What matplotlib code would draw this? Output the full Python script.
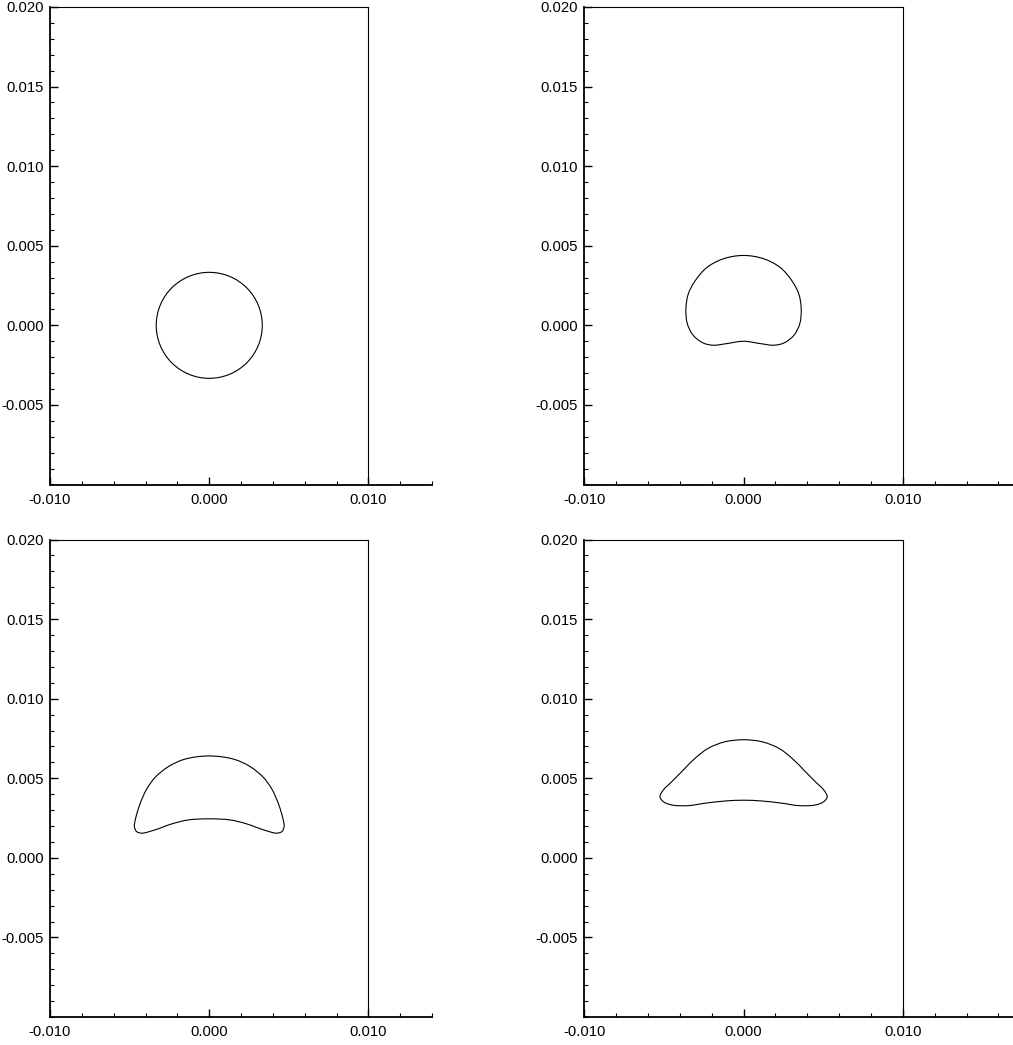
import numpy as np
import matplotlib
matplotlib.use("Agg")
import matplotlib.pyplot as plt
from matplotlib.path import Path
from matplotlib.patches import PathPatch, Circle
from matplotlib.ticker import FixedLocator, MultipleLocator, FormatStrFormatter

plt.rcParams['font.family'] = ['Liberation Sans', 'DejaVu Sans']

# Computational domain (box edges)
domain_x = [-0.010, 0.010]
domain_y = [-0.010, 0.020]

# Axis ranges and ticks
x_limits_left = [-0.010, 0.014]
x_limits_right = [-0.010, 0.017]
y_limits = [-0.010, 0.020]
x_major = [-0.010, 0.000, 0.010]
y_major = [-0.005, 0.000, 0.005, 0.010, 0.015, 0.020]

# Stage 1: initial spherical bubble
circle_center = (0.0, 0.0)
circle_radius = 0.00333

# Stages 2-4: right half of the bubble interface, from the top (x=0)
# clockwise round to the bottom (x=0); the left half is its mirror image.
s2_x = [0.0, 0.00127, 0.00232, 0.00305, 0.00347, 0.00362, 0.00353,
        0.00316, 0.00253, 0.00190, 0.00107, 0.0]
s2_y = [0.00439, 0.00418, 0.00362, 0.00278, 0.00197, 0.00105, 0.00010,
        -0.00063, -0.00111, -0.00125, -0.00115, -0.00100]

s3_x = [0.0, 0.00153, 0.00257, 0.00340, 0.00393, 0.00435, 0.00462,
        0.00470, 0.00456, 0.00424, 0.00340, 0.00236, 0.00132, 0.0]
s3_y = [0.00640, 0.00620, 0.00573, 0.00505, 0.00432, 0.00338, 0.00249,
        0.00196, 0.00165, 0.00155, 0.00176, 0.00213, 0.00238, 0.00245]

s4_x = [0.0, 0.00117, 0.00222, 0.00305, 0.00378, 0.00451, 0.00504,
        0.00525, 0.00504, 0.00451, 0.00347, 0.00243, 0.00117, 0.0]
s4_y = [0.00742, 0.00729, 0.00688, 0.00625, 0.00552, 0.00478, 0.00426,
        0.00384, 0.00353, 0.00332, 0.00328, 0.00343, 0.00357, 0.00362]


def closed_contour(hx, hy):
    """Join a right half-contour with its mirror to form a closed loop."""
    hx = np.asarray(hx)
    hy = np.asarray(hy)
    lx = -hx[-2:0:-1]
    ly = hy[-2:0:-1]
    return np.concatenate([hx, lx]), np.concatenate([hy, ly])


def bezier_path(px, py, alpha=0.5):
    """Closed cubic Bezier path through the points (centripetal Catmull-Rom)."""
    pts = np.column_stack([px, py])
    n = len(pts)
    verts = [pts[0]]
    codes = [Path.MOVETO]
    for i in range(n):
        p0 = pts[(i - 1) % n]
        p1 = pts[i]
        p2 = pts[(i + 1) % n]
        p3 = pts[(i + 2) % n]
        d0 = np.linalg.norm(p1 - p0) ** alpha
        d1 = np.linalg.norm(p2 - p1) ** alpha
        d2 = np.linalg.norm(p3 - p2) ** alpha
        m1 = (p1 - p0) / d0 - (p2 - p0) / (d0 + d1) + (p2 - p1) / d1
        m2 = (p2 - p1) / d1 - (p3 - p1) / (d1 + d2) + (p3 - p2) / d2
        c1 = p1 + m1 * d1 / 3.0
        c2 = p2 - m2 * d1 / 3.0
        verts.extend([c1, c2, p2])
        codes.extend([Path.CURVE4] * 3)
    return Path(verts, codes)


W, H = 1013, 1045
fig = plt.figure(figsize=(W / 100, H / 100), dpi=100)

# panel frames in pixels: (left, right, top, bottom)
px_per_unit = 15925.0
left_w = (x_limits_left[1] - x_limits_left[0]) * px_per_unit
right_w = (x_limits_right[1] - x_limits_right[0]) * px_per_unit
frames = [(50, 50 + left_w, 7, 484.5, x_limits_left),
          (584.3, 584.3 + right_w, 7, 484.5, x_limits_right),
          (50, 50 + left_w, 539.5, 1017, x_limits_left),
          (584.3, 584.3 + right_w, 539.5, 1017, x_limits_right)]

shapes = [None, (s2_x, s2_y), (s3_x, s3_y), (s4_x, s4_y)]

for (l, r, t, b, xl), shape in zip(frames, shapes):
    ax = fig.add_axes([l / W, 1 - b / H, (r - l) / W, (b - t) / H])
    ax.set_xlim(xl)
    ax.set_ylim(y_limits)
    for side in ('top', 'right'):
        ax.spines[side].set_visible(False)
    for side in ('left', 'bottom'):
        ax.spines[side].set_linewidth(1.3)

    ax.xaxis.set_major_locator(FixedLocator(x_major))
    ax.xaxis.set_minor_locator(MultipleLocator(0.002))
    ax.yaxis.set_major_locator(FixedLocator(y_major))
    ax.yaxis.set_minor_locator(MultipleLocator(0.001))
    ax.xaxis.set_major_formatter(FormatStrFormatter('%.3f'))
    ax.yaxis.set_major_formatter(FormatStrFormatter('%.3f'))
    ax.tick_params(which='both', direction='in', top=False, right=False,
                   labelsize=10.7, colors='black')
    ax.tick_params(which='major', length=6, width=1.0)
    ax.tick_params(which='minor', length=3, width=0.8)
    ax.tick_params(axis='x', which='major', pad=6)
    ax.tick_params(axis='y', which='major', pad=4.5)

    # domain boundary
    ax.plot([domain_x[1], domain_x[1]], domain_y, color='black', lw=0.8,
            clip_on=False)
    ax.plot(domain_x, [domain_y[1], domain_y[1]], color='black', lw=0.8,
            clip_on=False)

    if shape is None:
        ax.add_patch(Circle(circle_center, circle_radius, fill=False,
                            edgecolor='black', lw=0.8))
    else:
        cx, cy = closed_contour(*shape)
        ax.add_patch(PathPatch(bezier_path(cx, cy), fill=False,
                               edgecolor='black', lw=0.8))

fig.savefig('out.png', dpi=100)
